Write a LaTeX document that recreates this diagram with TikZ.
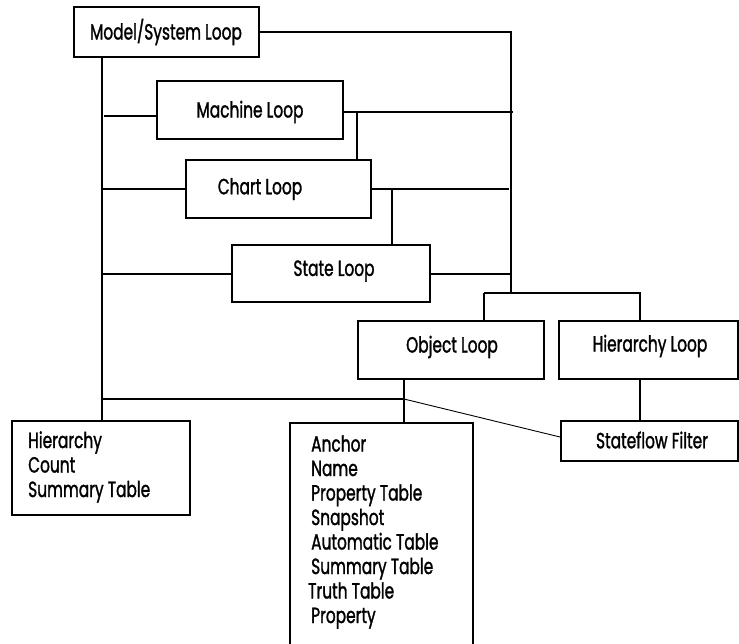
\documentclass[tikz,border=0pt]{standalone}
\usepackage{fontspec}
\setmainfont[FakeStretch=0.7,FakeBold=1.3]{Poppins}
\begin{document}
\begin{tikzpicture}[x=1pt,y=-1pt,
  box/.style={draw, line width=2pt, inner sep=0pt},
  lbl/.style={inner sep=0pt, font=\fontsize{22}{24.5}\selectfont},
  wire/.style={line width=2pt},
  thinwire/.style={line width=0.9pt}]
\useasboundingbox (0,0) rectangle (739,643);
% boxes
\node[box, minimum width=185pt, minimum height=50pt] (model) at (166.5,32) {};
\node[box, minimum width=186pt, minimum height=58pt] (machine) at (250,110) {};
\node[box, minimum width=185pt, minimum height=58pt] (chart) at (278.5,189) {};
\node[box, minimum width=198pt, minimum height=57pt] (state) at (331,273.5) {};
\node[box, minimum width=186pt, minimum height=58pt] (object) at (451,350) {};
\node[box, minimum width=179pt, minimum height=58pt] (hloop) at (648.5,350) {};
\node[box, minimum width=177pt, minimum height=40pt] (filter) at (649.5,441) {};
\node[box, minimum width=178pt, minimum height=94pt] (hcount) at (101,468) {};
\node[box, minimum width=183pt, minimum height=240pt] (list) at (381.5,543) {};
% labels
\node[lbl] (modeltxt) at (166,32) {Model/System Loop};
\node[lbl] (machinetxt) at (250,112) {Machine Loop};
\node[lbl] (charttxt) at (260,189) {Chart Loop};
\node[lbl] (statetxt) at (334,271) {State Loop};
\node[lbl] (objecttxt) at (452,347) {Object Loop};
\node[lbl] (hlooptxt) at (650,346) {Hierarchy Loop};
\node[lbl] (filtertxt) at (652,440) {Stateflow Filter};
\node[lbl, align=left, anchor=west] (hcounttxt) at (28,467) {Hierarchy\\Count\\Summary Table};
\node[lbl, align=left, anchor=west] (listtxt) at (311,532) {Anchor\\Name\\Property Table\\Snapshot\\Automatic Table\\Summary Table\\\hspace*{-3pt}Truth Table\\Property};
% junction coordinates
\coordinate (sp) at (102,0);
\coordinate (busend) at (511,293);
\coordinate (oj) at (484,293);
\coordinate (hj) at (640,293);
\coordinate (mL) at (104,116);
\coordinate (mR) at (513,112);
\coordinate (mD) at (357,112);
\coordinate (cL) at (102,189);
\coordinate (cR) at (509,189);
\coordinate (cD) at (392,189);
\coordinate (oD) at (404,399);
% connectors
\draw[wire] (model.south -| sp) -- (hcount.north -| sp);
\draw[wire] (model.east) -- (model.east -| busend) -- (busend);
\draw[wire] (oj) -- (oj |- object.north);
\draw[wire] (oj) -- (hj) -- (hj |- hloop.north);
\draw[wire] (mL) -- (mL -| machine.west);
\draw[wire] (machine.east |- mR) -- (mR);
\draw[wire] (mD) -- (mD |- chart.north);
\draw[wire] (cL) -- (chart.west);
\draw[wire] (chart.east) -- (cR);
\draw[wire] (cD) -- (cD |- state.north);
\draw[wire] (state.west -| sp) -- (state.west);
\draw[wire] (state.east) -- (state.east -| busend);
\draw[wire] (oD |- object.south) -- (oD |- list.north);
\draw[wire] (oD) -- (oD -| sp);
\draw[thinwire] (oD) -- ([yshift=4pt]filter.west);
\draw[wire] (hloop.south -| hj) -- (hj |- filter.north);
\end{tikzpicture}
\end{document}
